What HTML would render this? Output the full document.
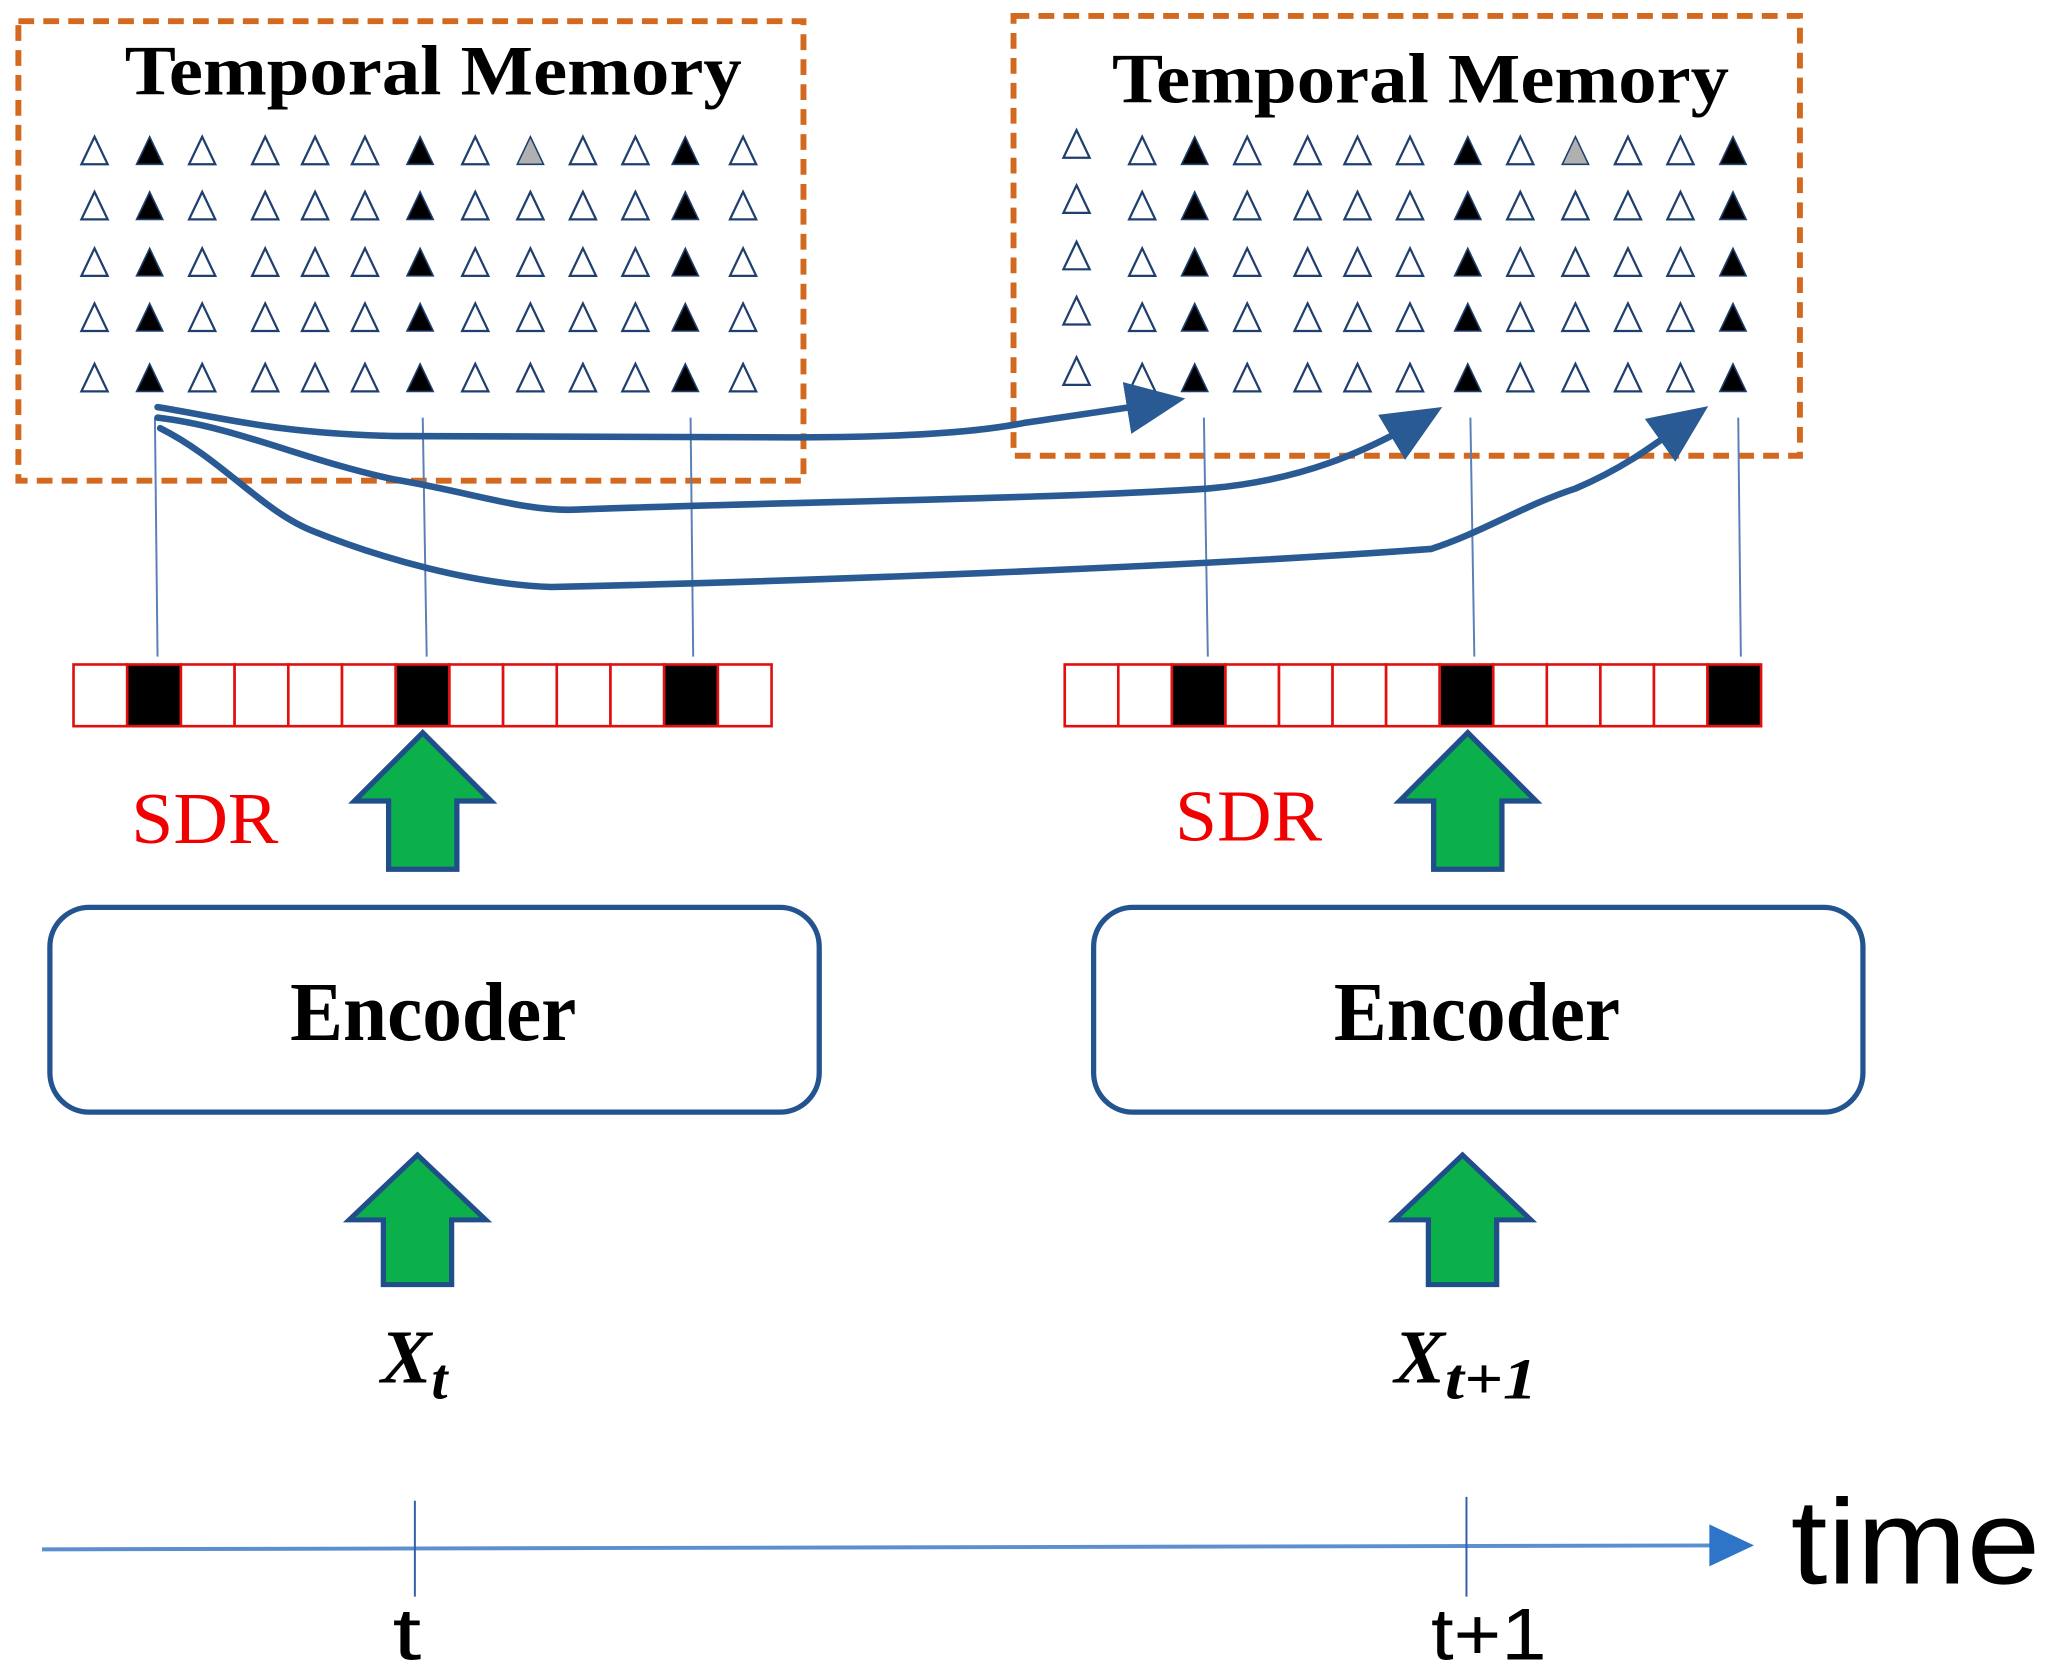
<!DOCTYPE html>
<html><head><style>html,body{margin:0;padding:0;background:#fff}svg{display:block}</style></head>
<body>
<svg width="2052" height="1669" viewBox="0 0 1563 1271" xmlns="http://www.w3.org/2000/svg">
<defs>
<marker id="ah" markerWidth="10" markerHeight="8" refX="7" refY="4" orient="auto" markerUnits="strokeWidth"><path d="M0,0 L9,4 L0,8 z" fill="#2a5a93"/></marker>
<g id="to"><path d="M0,-11 L10,10 L-10,10 z" fill="#fff" stroke="#1f3f6e" stroke-width="1.7"/></g>
<g id="tf"><path d="M0,-11 L10,10 L-10,10 z" fill="#000" stroke="#1f3f6e" stroke-width="1.2"/></g>
<g id="tg"><path d="M0,-11 L10,10 L-10,10 z" fill="#b0b0b0" stroke="#1f3f6e" stroke-width="1.2"/></g>
<g id="ga"><path d="M-26,52 L-26,0 L-52,0 L0,-52 L52,0 L26,0 L26,52 z" fill="#0cb04a" stroke="#1f4e8a" stroke-width="4"/></g>
</defs>

<rect x="14" y="16" width="598" height="350" fill="none" stroke="#d2691e" stroke-width="4.5" stroke-dasharray="12,7"/>
<rect x="772" y="12" width="599" height="335" fill="none" stroke="#d2691e" stroke-width="4.5" stroke-dasharray="12,7"/>
<text x="330" y="72" text-anchor="middle" font-family="Liberation Serif, serif" font-weight="bold" font-size="54" textLength="470" lengthAdjust="spacingAndGlyphs">Temporal Memory</text>
<text x="1082" y="78" text-anchor="middle" font-family="Liberation Serif, serif" font-weight="bold" font-size="54" textLength="470" lengthAdjust="spacingAndGlyphs">Temporal Memory</text>

<script>
(function(){
var ns="http://www.w3.org/2000/svg",svg=document.querySelector("svg");
function put(id,x,y){var u=document.createElementNS(ns,"use");u.setAttribute("href","#"+id);u.setAttribute("x",x);u.setAttribute("y",y);svg.appendChild(u);}
var rows=[115,157,200,242,288];
var cl=[72,114,154,202,240,278,320,362,404,444,484,522,566];
cl.forEach(function(x,i){rows.forEach(function(y,r){var id=(i==1||i==6||i==11)?"tf":"to";if(i==8&&r==0)id="tg";put(id,x,y);});});
var cr=[820,870,910,950,996,1034,1074,1118,1158,1200,1240,1280,1320];
cr.forEach(function(x,i){rows.forEach(function(y,r){var yy=(i==0)?y-5:y;var id=(i==2||i==7||i==12)?"tf":"to";if(i==9&&r==0)id="tg";put(id,x,yy);});});
function sdr(x0,w,blk){for(var i=0;i<13;i++){var r=document.createElementNS(ns,"rect");r.setAttribute("x",x0+i*w);r.setAttribute("y",506);r.setAttribute("width",w);r.setAttribute("height",47);r.setAttribute("fill",blk.indexOf(i)>=0?"#000":"#fff");r.setAttribute("stroke","#e01010");r.setAttribute("stroke-width","2");svg.appendChild(r);}}
sdr(56,40.9,[1,6,11]);sdr(811,40.8,[2,7,12]);
})();
</script>

<g stroke="#5b7fb8" stroke-width="1.5">
<line x1="118" y1="318" x2="120" y2="500"/><line x1="322" y1="318" x2="325" y2="500"/><line x1="526" y1="318" x2="528" y2="500"/>
<line x1="917" y1="318" x2="920" y2="500"/><line x1="1120" y1="318" x2="1123" y2="500"/><line x1="1324" y1="318" x2="1326" y2="500"/>
</g>

<g fill="none" stroke="#2a5a93" stroke-width="5" stroke-linecap="round">
<path d="M120,310 C170,318 210,330 300,332 L600,333 C680,333 740,330 780,322 C820,316 850,312 893,305" marker-end="url(#ah)"/>
<path d="M120,318 C180,325 230,350 300,365 C360,375 400,390 440,388 C600,382 800,380 920,372 C990,366 1040,345 1090,315" marker-end="url(#ah)"/>
<path d="M122,326 C170,350 200,390 240,405 C290,425 360,445 420,447 C600,443 900,432 1090,418 C1130,405 1160,385 1200,372 C1240,355 1262,337 1293,315" marker-end="url(#ah)"/>
</g>

<text x="156" y="642" text-anchor="middle" font-family="Liberation Serif, serif" font-size="56" fill="#f00000" textLength="112" lengthAdjust="spacingAndGlyphs">SDR</text>
<text x="951" y="640" text-anchor="middle" font-family="Liberation Serif, serif" font-size="56" fill="#f00000" textLength="112" lengthAdjust="spacingAndGlyphs">SDR</text>

<use href="#ga" transform="translate(322,610)"/>
<use href="#ga" transform="translate(1118,610)"/>
<use href="#ga" transform="translate(318,929) scale(1,0.95)"/>
<use href="#ga" transform="translate(1114,929) scale(1,0.95)"/>

<rect x="38" y="691" width="586" height="156" rx="30" fill="#fff" stroke="#245490" stroke-width="4"/>
<rect x="833" y="691" width="586" height="156" rx="30" fill="#fff" stroke="#245490" stroke-width="4"/>
<text x="330" y="792" text-anchor="middle" font-family="Liberation Serif, serif" font-weight="bold" font-size="64" textLength="218" lengthAdjust="spacingAndGlyphs">Encoder</text>
<text x="1125" y="792" text-anchor="middle" font-family="Liberation Serif, serif" font-weight="bold" font-size="64" textLength="218" lengthAdjust="spacingAndGlyphs">Encoder</text>

<text x="290" y="1053" font-family="Liberation Serif, serif" font-weight="bold" font-style="italic" font-size="58">X<tspan font-size="44" dy="12">t</tspan></text>
<text x="1062" y="1053" font-family="Liberation Serif, serif" font-weight="bold" font-style="italic" font-size="58">X<tspan font-size="44" dy="12" textLength="70" lengthAdjust="spacingAndGlyphs">t+1</tspan></text>

<line x1="32" y1="1180" x2="1308" y2="1177" stroke="#5b8fd0" stroke-width="3"/>
<path d="M1302,1161 L1336,1177 L1302,1193 z" fill="#2e75c8"/>
<line x1="316" y1="1143" x2="316" y2="1216" stroke="#2e5fa8" stroke-width="1.5"/>
<line x1="1117" y1="1140" x2="1117" y2="1216" stroke="#2e5fa8" stroke-width="1.5"/>
<text x="310" y="1264" text-anchor="middle" font-family="Liberation Sans, sans-serif" font-size="56" textLength="22" lengthAdjust="spacingAndGlyphs">t</text>
<text x="1134" y="1264" text-anchor="middle" font-family="Liberation Sans, sans-serif" font-size="56" textLength="88" lengthAdjust="spacingAndGlyphs">t+1</text>
<text x="1364" y="1206" font-family="Liberation Sans, sans-serif" font-size="92" textLength="190" lengthAdjust="spacingAndGlyphs">time</text>
</svg>
</body></html>
